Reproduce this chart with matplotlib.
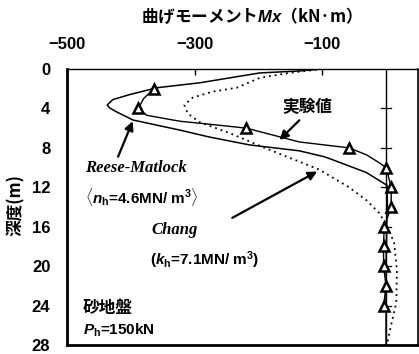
import matplotlib
matplotlib.use("Agg")
import matplotlib.pyplot as plt

plt.rcParams['font.family'] = ['Liberation Sans', 'Noto Sans CJK JP', 'DejaVu Sans']
plt.rcParams['font.weight'] = 'bold'
plt.rcParams['mathtext.fontset'] = 'custom'
plt.rcParams['mathtext.rm'] = 'Liberation Sans:bold'
plt.rcParams['mathtext.it'] = 'Liberation Sans:italic:bold'
plt.rcParams['mathtext.bf'] = 'Liberation Sans:bold'

# Measured bending moments (kN·m) at gauge depths (m)
meas_depth = [2, 4, 6, 8, 10, 12, 14, 16, 18, 20, 22, 24]
meas_moment = [-364, -388, -219, -58, 0, 8, 8, -3, -4, -4, 0, -4]

# Line through the measured profile (including points between gauges)
exp_depth = [2.0, 3.0, 4.0, 4.7, 5.3, 5.6, 6.0, 7.4, 7.7, 8.0, 8.7, 9.5, 10.0,
             12.0, 14.0, 16.0, 18.0, 20.0, 22.0, 24.0]
exp_moment = [-364, -380, -388, -375, -323, -277, -219, -136, -97, -58, -31, -11, 0,
              8, 8, -3, -4, -4, 0, -4]

# Reese-Matlock analysis (n_h = 4.6 MN/m3)
rm_depth = [0.0, 0.2, 0.4, 0.9, 1.4, 1.9, 2.6, 3.1, 3.65, 3.96, 4.36, 4.87, 5.17,
            6.2, 6.9, 7.7, 8.3, 8.9, 9.2, 10.5, 11.8, 13.3, 16.0, 20.0, 24.0, 28.0]
rm_moment = [-100, -136, -198, -245, -292, -359, -402, -428, -437, -433, -422, -406, -397,
             -323, -277, -214, -136, -97, -84, -31, 1.5, 2, 1, 0, 0, 0]

# Chang analysis (k_h = 7.1 MN/m3)
ch_depth = [0.0, 0.4, 0.9, 1.9, 2.3, 2.9, 3.65, 4.5, 5.4, 6.5, 7.9, 9.4, 10.2, 12.0,
            13.3, 14.6, 16.0, 17.6, 20.4, 23.7, 26.8, 27.8]
ch_moment = [-100, -152, -198, -234, -272, -303, -316, -311, -292, -245, -194, -136, -105,
             -58, -31, -11, 2, 12.5, 17, 16, 5, 2]

x_ticks = [-500, -300, -100]
y_ticks = [0, 4, 8, 12, 16, 20, 24, 28]

W, H = 419, 354
fig = plt.figure(figsize=(W / 100, H / 100), dpi=100)
ax = fig.add_axes([67 / W, (H - 345) / H, (418 - 67) / W, (345 - 69) / H])

ax.set_xlim(-500, 50)
ax.set_ylim(28, 0)

# zero-moment reference line with depth marks
ax.axvline(0, color='black', lw=1.0, zorder=2)
for d in [4, 8, 12, 16, 20, 24]:
    ax.plot([-8, 8], [d, d], color='black', lw=0.9, zorder=2)

ax.plot(ch_moment, ch_depth, color='black', lw=1.3, linestyle=(0, (1, 2.2)), zorder=3)
ax.plot(rm_moment, rm_depth, color='black', lw=1.1, zorder=3)
ax.plot(exp_moment, exp_depth, color='black', lw=1.0, zorder=3)
ax.plot(meas_moment, meas_depth, linestyle='none', marker='^', markersize=7.5,
        markerfacecolor='white', markeredgecolor='black', markeredgewidth=1.8, zorder=4)

# axes styling
ax.xaxis.tick_top()
ax.set_xticks(x_ticks)
ax.set_xticklabels(['\u2212500', '\u2212300', '\u2212100'])
ax.set_yticks(y_ticks)
ax.tick_params(axis='x', direction='in', length=4, width=1, pad=12, labelsize=12)
ax.tick_params(axis='y', length=0, pad=12, labelsize=12)
ax.spines['left'].set_linewidth(2.0)
ax.spines['bottom'].set_linewidth(2.0)
ax.spines['top'].set_linewidth(1.0)
ax.spines['right'].set_linewidth(1.2)

fig.text(247 / W, 1 - 16 / H, '曲げモーメント$Mx$（kN·m）', ha='center', va='center',
         fontsize=12, fontweight='bold', family=['Noto Sans CJK JP', 'DejaVu Sans'])
fig.text(16 / W, 1 - 205 / H, '深度(m)', ha='center', va='center', rotation=90,
         fontsize=12, fontweight='bold', family=['Noto Sans CJK JP', 'DejaVu Sans'])

arrow = dict(arrowstyle='-|>', color='black', lw=1.6, mutation_scale=13,
             shrinkA=0, shrinkB=0)

ax.text(-123, 3.85, '実験値', ha='center', va='center', fontsize=12,
        fontweight='bold', family=['Noto Sans CJK JP', 'DejaVu Sans'])
ax.annotate('', xy=(-167, 7.2), xytext=(-136, 5.2), arrowprops=arrow)

ax.text(-472, 10.0, 'Reese-Matlock', ha='left', va='center', fontsize=12,
        style='italic', fontweight='bold', family=['Liberation Serif'])
ax.annotate('', xy=(-397, 5.3), xytext=(-420, 8.9), arrowprops=arrow)
ax.text(-472, 13.0, r'$\langle$$n_\mathrm{h}$=4.6MN/ m$^\mathrm{3}$$\rangle$', ha='left',
        va='center', fontsize=11, fontweight='bold', family=['Liberation Sans'])

ax.text(-367, 16.3, 'Chang', ha='left', va='center', fontsize=12,
        style='italic', fontweight='bold', family=['Liberation Serif'])
ax.annotate('', xy=(-108, 10.4), xytext=(-241, 15.1), arrowprops=arrow)
ax.text(-370, 19.4, r'($k_\mathrm{h}$=7.1MN/ m$^\mathrm{3}$)', ha='left',
        va='center', fontsize=11, fontweight='bold', family=['Liberation Sans'])

ax.text(-475, 24.2, '砂地盤', ha='left', va='center', fontsize=12,
        fontweight='bold', family=['Noto Sans CJK JP', 'DejaVu Sans'])
ax.text(-475, 26.5, r'$P_\mathrm{h}$=150kN', ha='left', va='center', fontsize=11,
        fontweight='bold', family=['Liberation Sans'])

fig.savefig('out.png', dpi=100)
